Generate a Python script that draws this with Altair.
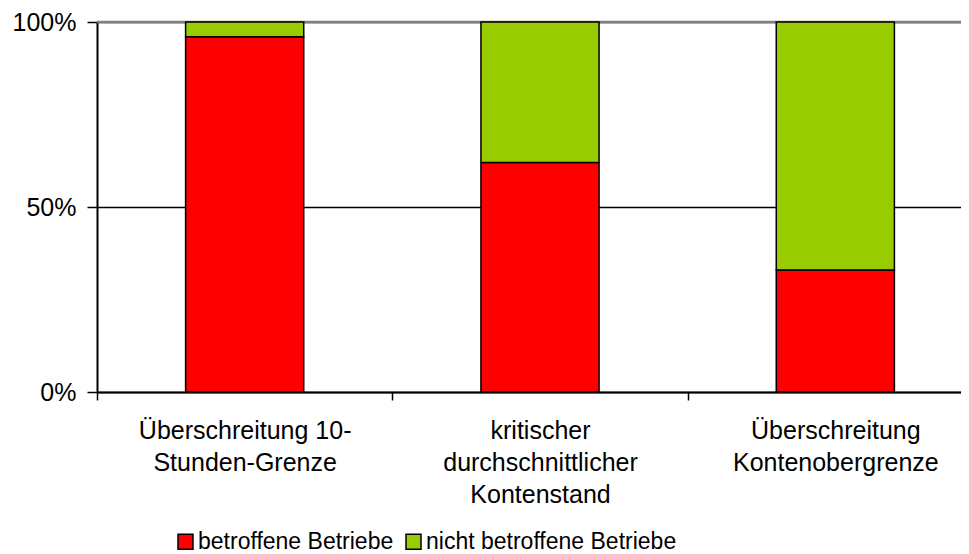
import altair as alt
import pandas as pd

categories = [
    "Überschreitung 10-|Stunden-Grenze",
    "kritischer|durchschnittlicher|Kontenstand",
    "Überschreitung|Kontenobergrenze",
]
series = ["betroffene Betriebe", "nicht betroffene Betriebe"]
affected = [96, 62, 33]
not_affected = [4, 38, 67]
colors = ["#FF0000", "#99CC00"]
y_ticks = [0, 50, 100]

rows = []
for i, c in enumerate(categories):
    rows.append({"cat": c, "series": series[0], "value": affected[i], "ord": 0})
    rows.append({"cat": c, "series": series[1], "value": not_affected[i], "ord": 1})
df = pd.DataFrame(rows)

FONT = "Liberation Sans"

x_enc = alt.X(
    "cat:N",
    sort=categories,
    scale=alt.Scale(paddingInner=0, paddingOuter=0, range=[0, 886]),
    axis=alt.Axis(
        title=None,
        labelAngle=0,
        tickBand="extent",
        labelExpr="split(datum.label, '|')",
        labelFont=FONT,
        labelFontSize=25,
        labelColor="black",
        labelLineHeight=32,
        labelPadding=18,
        labelBaseline="top",
        labelLimit=400,
        tickSize=8,
        tickColor="black",
        tickWidth=1.5,
        domainColor="black",
        domainWidth=2,
        grid=False,
    ),
)

y_enc = alt.Y(
    "value:Q",
    stack="zero",
    scale=alt.Scale(domain=[0, 100], nice=False),
    axis=alt.Axis(
        title=None,
        values=y_ticks,
        labelExpr="datum.value + '%'",
        labelFont=FONT,
        labelFontSize=25,
        labelColor="black",
        labelPadding=11,
        tickSize=10,
        tickColor="black",
        tickWidth=1.5,
        domainColor="black",
        domainWidth=2,
        grid=True,
        gridColor="black",
        gridWidth=1.5,
    ),
)

top_rule = alt.Chart(pd.DataFrame({"v": [100]})).mark_rule(
    color="#808080", strokeWidth=2.5
).encode(y=alt.Y("v:Q"))

bars = alt.Chart(df).mark_bar(
    width=alt.RelativeBandSize(0.4), stroke="black", strokeWidth=1.5
).encode(
    x=x_enc,
    y=y_enc,
    color=alt.Color(
        "series:N",
        scale=alt.Scale(domain=series, range=colors),
        legend=alt.Legend(
            title=None,
            orient="none",
            legendX=77,
            legendY=508,
            direction="horizontal",
            symbolType="square",
            symbolSize=225,
            symbolStrokeColor="black",
            symbolStrokeWidth=1.5,
            symbolOpacity=1,
            labelFont=FONT,
            labelFontSize=23,
            labelColor="black",
            labelOffset=1,
            labelLimit=400,
            columnPadding=8,
        ),
    ),
    order=alt.Order("ord:Q"),
)

chart = alt.layer(top_rule, bars).properties(
    width=864,
    height=370,
    autosize=alt.AutoSizeParams(type="none"),
    padding={"left": 89, "top": 14, "right": 0, "bottom": 162},
).configure_view(stroke=None)

chart.save("out.html", embed_options={"renderer": "svg", "actions": False})
